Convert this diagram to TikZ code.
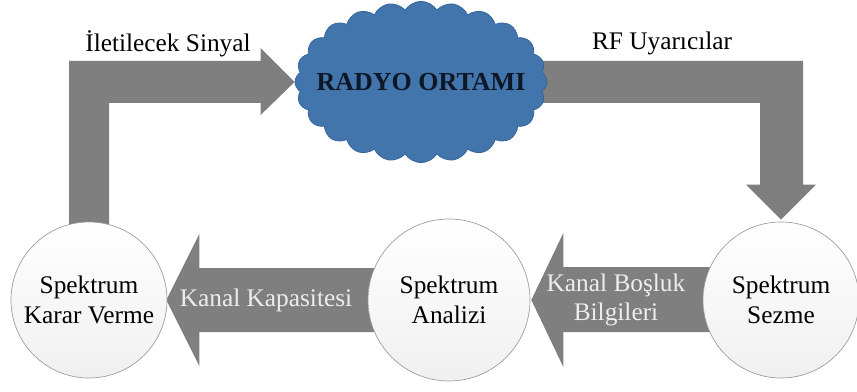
\documentclass[tikz,border=0pt]{standalone}
\usepackage{fontspec}
\setmainfont{Liberation Serif}
\usetikzlibrary{calc,shapes.symbols,backgrounds}

\definecolor{arrowgray}{HTML}{7F7F7F}
\definecolor{cloudblue}{HTML}{4375AD}
\definecolor{cloudedge}{HTML}{36659A}
\definecolor{cloudtext}{HTML}{0E1726}
\definecolor{labelgray}{HTML}{EDEDED}
\definecolor{ringgray}{HTML}{9A9A9A}

\begin{document}
\begin{tikzpicture}[x=0.75pt,y=-0.75pt,
  textfont/.style={font=\fontsize{19}{22}\selectfont},
  stage/.style={circle, draw=ringgray, line width=0.5pt,
    top color=white, bottom color=gray!12, inner sep=0pt,
    minimum size=#1, align=center, text=black, textfont},
  blockarrow/.style={fill=arrowgray},
  toplabel/.style={anchor=base, text=black, textfont},
  arrowlabel/.style={text=labelgray, align=center, textfont},
  medium/.style={cloud, cloud puffs=24, cloud puff arc=115, cloud ignores aspect,
    minimum width=189pt, minimum height=121pt, inner sep=0pt,
    fill=cloudblue, draw=cloudedge, line width=0.6pt,
    text=cloudtext, font=\fontsize{19.5}{22}\selectfont\bfseries}
]
\useasboundingbox (0,0) rectangle (857,392);

% radio environment (zero-width label so the outline follows the given size)
\node[medium] (cl) at (421,82) {\makebox[0pt]{RADYO ORTAMI}};

% cognitive cycle stages
\node[stage=117pt] (kv) at (89,300) {Spektrum\\Karar Verme};
\node[stage=121.5pt] (an) at (449,300) {Spektrum\\Analizi};
\node[stage=117pt] (sz) at (781,300) {Spektrum\\Sezme};

\begin{scope}[on background layer]
% L-shaped arrow: decision -> radio environment
\fill[blockarrow] ($(kv.north)+(-20,3)$) |- ($(cl.west)+(-34,-21)$)
  -- ++(0,-13) -- (cl.west) -- ++(-34,33) -- ++(0,-12)
  -| ($(kv.north)+(20,3)$) -- cycle;

% L-shaped arrow: radio environment -> sensing
\fill[blockarrow] ($(cl.east)+(-25,-21)$) -| ($(sz.north)+(22,-37)$)
  -- ++(13,0) -- ($(sz.north)+(0,-2)$) -- ($(sz.north)+(-35,-37)$)
  -- ++(14,0) |- ($(cl.east)+(-25,21)$) -- cycle;

% straight arrow: analysis -> decision
\fill[blockarrow] ($(kv.east)+(-1,0)$) -- ++(33,-66) -- ++(0,34)
  -- ($(an.west)+(12,-32)$) -- ($(an.west)+(12,32)$)
  -- ($(kv.east)+(32,32)$) -- ++(0,34) -- cycle;

% straight arrow: sensing -> analysis
\fill[blockarrow] ($(an.east)+(1,0)$) -- ++(32,-67) -- ++(0,34)
  -- ($(sz.west)+(12,-33)$) -- ($(sz.west)+(12,32)$)
  -- ($(an.east)+(33,32)$) -- ++(0,35) -- cycle;
\end{scope}

% arrow labels
\node[toplabel] (lsig) at (168,52) {İletilecek Sinyal};
\node[toplabel] (lrf) at (662,50) {RF Uyarıcılar};
\node[arrowlabel] (lcap) at (266,300) {Kanal Kapasitesi};
\node[arrowlabel] (lgap) at (616,300) {Kanal Boşluk\\Bilgileri};
\end{tikzpicture}
\end{document}
